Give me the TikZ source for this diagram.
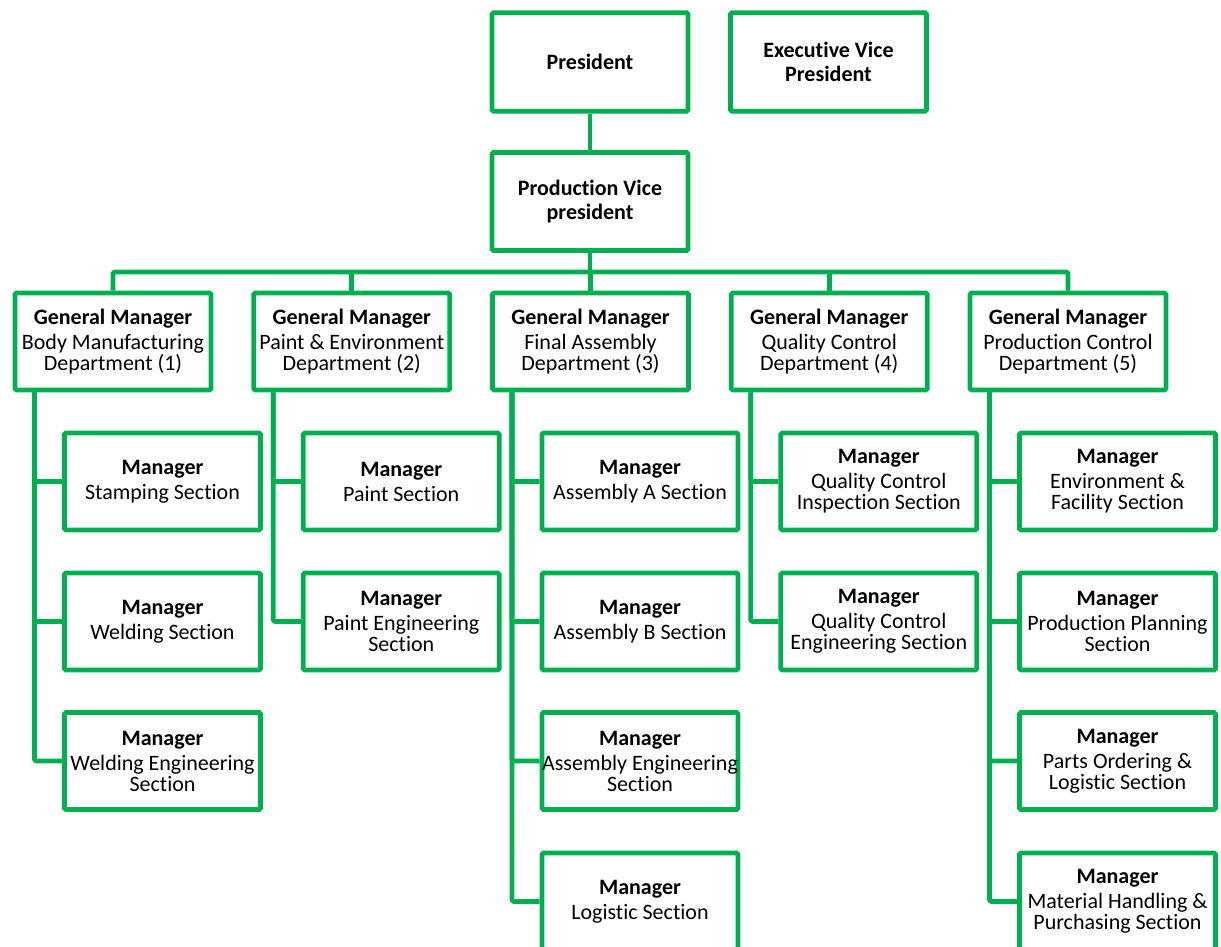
\documentclass[tikz,border=0pt]{standalone}
\usepackage{fontspec}
\setmainfont{Carlito}[RawFeature={-liga;-clig;-dlig;-calt}]
\definecolor{ogreen}{RGB}{0,176,80}
\newcommand\bxt[2]{\textbf{#1}\\[4pt]#2}
\tikzset{
  orgbox/.style={draw=ogreen, line width=4.8pt, rounded corners=1.5pt, fill=white,
    minimum width=196pt, minimum height=97pt, inner sep=0pt, align=center,
    font=\fontsize{22}{21}\selectfont},
  link/.style={draw=ogreen, line width=4.8pt, line join=round, rounded corners=1.5pt},
}
\begin{document}
\begin{tikzpicture}[x=1pt,y=-1pt]
\useasboundingbox (0,0) rectangle (1221,947);
% top
\node[orgbox, minimum height=98.5pt] (pres) at (590,62) {\textbf{President}};
\node[orgbox, minimum height=98.5pt] (evp) at (828.5,62) {\textbf{Executive Vice}\\[2.3pt]\textbf{President}};
\node[orgbox, minimum height=98pt] (pvp) at (590,201.5) {\textbf{Production Vice}\\[2.3pt]\textbf{president}};
% general managers
\node[orgbox] (gm1) at (113,341.5) {\bxt{General Manager}{Body Manufacturing\\Department (1)}};
\node[orgbox] (gm2) at (351.75,341.5) {\bxt{General Manager}{Paint \& Environment\\Department (2)}};
\node[orgbox] (gm3) at (590.5,341.5) {\bxt{General Manager}{Final Assembly\\Department (3)}};
\node[orgbox] (gm4) at (829.25,341.5) {\bxt{General Manager}{Quality Control\\Department (4)}};
\node[orgbox] (gm5) at (1068,341.5) {\bxt{General Manager}{Production Control\\Department (5)}};
% sections col 1
\node[orgbox] (s11) at (162.5,481.5) {\bxt{Manager}{Stamping Section}};
\node[orgbox] (s12) at (162.5,621.5) {\bxt{Manager}{Welding Section}};
\node[orgbox] (s13) at (162.5,761) {\bxt{Manager}{Welding Engineering\\Section}};
% col 2
\node[orgbox] (s21) at (401.25,481.5) {\bxt{Manager}{Paint Section}};
\node[orgbox] (s22) at (401.25,621.5) {\bxt{Manager}{Paint Engineering\\Section}};
% col 3
\node[orgbox] (s31) at (640,481.5) {\bxt{Manager}{Assembly A Section}};
\node[orgbox] (s32) at (640,621.5) {\bxt{Manager}{Assembly B Section}};
\node[orgbox] (s33) at (640,761) {\bxt{Manager}{Assembly Engineering\\Section}};
\node[orgbox] (s34) at (640,901.5) {\bxt{Manager}{Logistic Section}};
% col 4
\node[orgbox] (s41) at (878.75,481.5) {\bxt{Manager}{Quality Control\\Inspection Section}};
\node[orgbox] (s42) at (878.75,621.5) {\bxt{Manager}{Quality Control\\Engineering Section}};
% col 5
\node[orgbox] (s51) at (1117.5,481.5) {\bxt{Manager}{Environment \&\\Facility Section}};
\node[orgbox] (s52) at (1117.5,621.5) {\bxt{Manager}{Production Planning\\Section}};
\node[orgbox] (s53) at (1117.5,761) {\bxt{Manager}{Parts Ordering \&\\Logistic Section}};
\node[orgbox] (s54) at (1117.5,901.5) {\bxt{Manager}{Material Handling \&\\Purchasing Section}};
% connectors top
\coordinate (bus) at (590,272);
\draw[link] (pres.south) -- (pvp.north);
\draw[link] (pvp.south) -- (bus);
\draw[link] (gm1.north) |- (bus) -| (gm5.north);
\draw[link] (gm2.north) -- (gm2.north |- bus);
\draw[link] (gm3.north) -- (gm3.north |- bus);
\draw[link] (gm4.north) -- (gm4.north |- bus);
% trunks
\foreach \g/\list in {gm1/{s11,s12,s13}, gm2/{s21,s22}, gm3/{s31,s32,s33,s34}, gm4/{s41,s42}, gm5/{s51,s52,s53,s54}}{
  \foreach \s in \list {
    \draw[link] ([xshift=-78.5pt]\g.south) |- (\s.west);
  }
}
\end{tikzpicture}
\end{document}
